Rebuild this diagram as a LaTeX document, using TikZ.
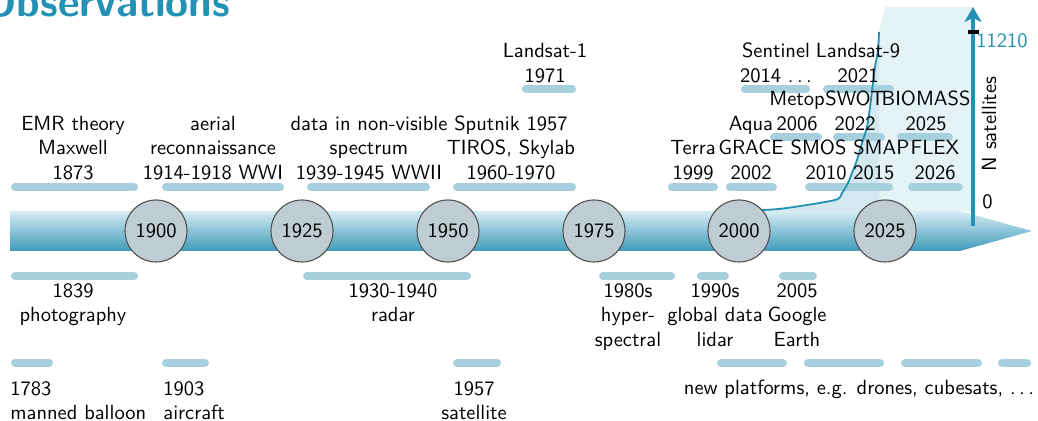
\documentclass[tikz,border=0pt]{standalone}
\usepackage{fontspec}
\usetikzlibrary{arrows.meta}
\definecolor{teal1}{RGB}{35,145,180}
\definecolor{evbar}{RGB}{166,208,222}
\definecolor{circfill}{RGB}{192,204,211}
\definecolor{circline}{RGB}{80,80,80}
\definecolor{bartop}{RGB}{214,236,243}
\definecolor{barbot}{RGB}{62,155,188}
\definecolor{futfill}{RGB}{229,242,246}
\definecolor{curvefill}{RGB}{211,232,239}
\newcommand{\spdots}{\mbox{.\kern.1667em.\kern.1667em.}}
\begin{document}
\begin{tikzpicture}[x=0.5pt,y=-0.5pt,
  lbl/.style={font=\sffamily\fontsize{10.25}{12.25}\selectfont, inner sep=0pt, align=center},
  evbarline/.style={line width=4pt, draw=evbar, line cap=round},
  yearcirc/.style={circle, draw=circline, fill=circfill, line width=0.55pt, minimum size=31pt, inner sep=0pt, font=\sffamily\fontsize{10.25}{12.25}\selectfont},
  curveline/.style={draw=teal1, line width=0.9pt, line join=round},
]
\useasboundingbox (0,0) rectangle (1038,421);

% title
\node[anchor=base west, inner sep=0pt, font=\sffamily\bfseries\fontsize{21}{25}\selectfont, text=teal1] (title) at (-17,17) {Observations};

% future region and area under the satellite curve
\fill[futfill] (885,7) -- (973,7) -- (973,211) -- (879,211) -- (879,32) -- cycle;
\fill[curvefill] plot[smooth, tension=0.45] coordinates {(722,211) (763,210) (787,208) (835,200) (842,193) (848,183) (852,173) (857,160) (862,143) (867,127) (870,107) (873,83) (875,67) (878,50) (879,32)} -- (879,211) -- cycle;

% timeline bar
\shade[top color=bartop, bottom color=barbot] (10,211) -- (960,211) -- (1032,231) -- (960,251) -- (10,251) -- cycle;

% satellite axis
\coordinate (axbot) at (973,226);
\coordinate (axtop) at (973,7);
\draw[teal1, line width=2.3pt, -{Stealth[length=7.5pt,width=8.5pt,inset=2pt]}] (axbot) -- (axtop);
\coordinate (tickl) at (968,32);
\coordinate (tickr) at (979,32);
\draw[black, line width=2pt] (tickl) -- (tickr);

% event bars above
\draw[evbarline] (15,187.5) -- (134,187.5);
\draw[evbarline] (166,187.5) -- (280,187.5);
\draw[evbarline] (311,187.5) -- (426,187.5);
\draw[evbarline] (457,187.5) -- (572,187.5);
\draw[evbarline] (672,187.5) -- (714,187.5);
\draw[evbarline] (730,187.5) -- (773,187.5);
\draw[evbarline] (809,187.5) -- (889,187.5);
\draw[evbarline] (912,187.5) -- (959,187.5);
\draw[evbarline] (774,137.5) -- (818,137.5);
\draw[evbarline] (837,137.5) -- (881,137.5);
\draw[evbarline] (901,137.5) -- (949,137.5);
\draw[evbarline] (526,89.5) -- (572,89.5);
\draw[evbarline] (745,89.5) -- (806,89.5);
\draw[evbarline] (827,89.5) -- (890,89.5);

% event bars below
\draw[evbarline] (15,276) -- (134,276);
\draw[evbarline] (307,276) -- (467,276);
\draw[evbarline] (603,276) -- (671,276);
\draw[evbarline] (701,276) -- (725,276);
\draw[evbarline] (783,276) -- (813,276);
\draw[evbarline] (15,363) -- (49,363);
\draw[evbarline] (166,363) -- (205,363);
\draw[evbarline] (457,363) -- (497,363);
\draw[evbarline] (721,363) -- (783,363);
\draw[evbarline] (808,363) -- (880,363);
\draw[evbarline] (905,363) -- (978,363);
\draw[evbarline] (1002,363) -- (1027,363);

% satellite curve
\draw[curveline] plot[smooth, tension=0.45] coordinates {(722,211) (763,210) (787,208) (835,200) (842,193) (848,183) (852,173) (857,160) (862,143) (867,127) (870,107) (873,83) (875,67) (878,50) (879,32)};

% year circles
\node[yearcirc] (y1900) at (156,231) {1900};
\node[yearcirc] (y1925) at (302,231) {1925};
\node[yearcirc] (y1950) at (448,231) {1950};
\node[yearcirc] (y1975) at (594,231) {1975};
\node[yearcirc] (y2000) at (739,231) {2000};
\node[yearcirc] (y2025) at (885,231) {2025};

% labels above
\node[lbl, anchor=south] (emr) at (73,180) {EMR theory\\Maxwell\\1873};
\node[lbl, anchor=south] (aerial) at (213,180) {aerial\\reconnaissance\\1914-1918 WWI};
\node[lbl, anchor=south] (nonvis) at (369,180) {data in non-visible\\spectrum\\1939-1945 WWII};
\node[lbl, anchor=south] (sputnik) at (511,180) {Sputnik 1957\\TIROS, Skylab\\1960-1970};
\node[lbl, anchor=south] (landsat1) at (545,83) {Landsat-1\\1971};
\node[lbl, anchor=south] (terra) at (693,180) {Terra\\1999};
\node[lbl, anchor=south] (aqua) at (751,180) {Aqua\\GRACE\\2002};
\node[lbl, anchor=south] (smos) at (850,180) {SMOS SMAP\\2010 2015};
\node[lbl, anchor=south] (flex) at (935,180) {FLEX\\2026};
\node[lbl, anchor=south] (metop) at (797,131) {Metop\\2006};
\node[lbl, anchor=south] (swot) at (855,131) {SWOT\\2022};
\node[lbl, anchor=south] (biomass) at (926,131) {BIOMASS\\2025};
\node[lbl, anchor=south] (sentinel) at (776,83) {Sentinel\\2014 \spdots};
\node[lbl, anchor=south] (landsat9) at (858,83) {Landsat-9\\2021};

% labels below
\node[lbl, anchor=north] (photo) at (73,283) {1839\\photography};
\node[lbl, anchor=north] (radar) at (393,283) {1930-1940\\radar};
\node[lbl, anchor=north] (hyper) at (628,283) {1980s\\hyper-\\spectral};
\node[lbl, anchor=north] (lidar) at (715,283) {1990s\\global data\\lidar};
\node[lbl, anchor=north] (google) at (797,283) {2005\\Google\\Earth};
\node[lbl, anchor=north west, align=left] (balloon) at (10,381) {1783\\manned balloon};
\node[lbl, anchor=north west, align=left] (aircraft) at (163,381) {1903\\aircraft};
\node[lbl, anchor=north] (satellite) at (474,381) {1957\\satellite};
\node[lbl, anchor=north] (platforms) at (859,380) {new platforms, e.g. drones, cubesats, \spdots};

% axis labels
\node[lbl, anchor=base west, text=teal1] (nmax) at (976,48) {11210};
\node[lbl, anchor=base west] (nzero) at (982,209) {0};
\node[lbl, rotate=90] (nsat) at (989,124) {N satellites};
\end{tikzpicture}
\end{document}
